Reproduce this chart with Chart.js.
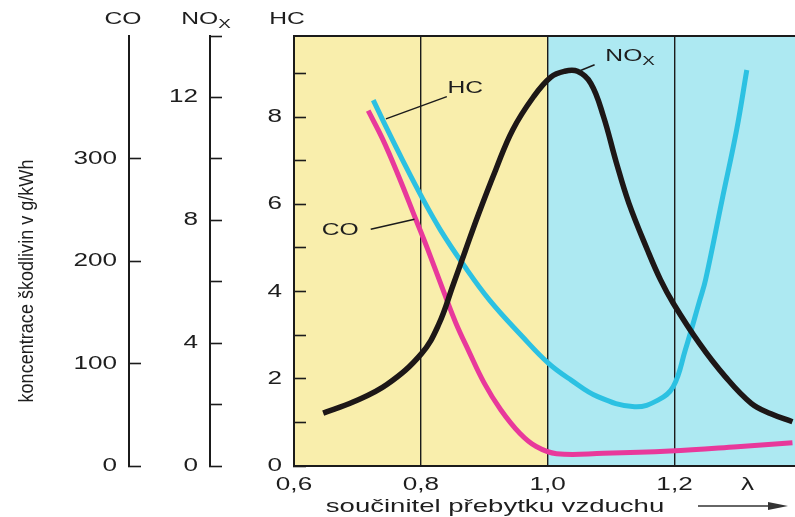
<!DOCTYPE html>
<html>
<head>
<meta charset="utf-8">
<script src="https://cdn.jsdelivr.net/npm/chart.js@4/dist/chart.umd.min.js"></script>
<style>
html, body { margin: 0; padding: 0; background: #fff; }
</style>
</head>
<body>
<canvas id="graf" width="795" height="517"></canvas>
<script>
// hodnoty (λ, koncentrace v jednotkách příslušné osy)
const noxLambda = [0.646, 0.694, 0.747, 0.801, 0.828, 0.851, 0.870, 0.890, 0.918, 0.945, 0.978, 1.005, 1.026, 1.047, 1.068, 1.088, 1.108, 1.128, 1.158, 1.178, 1.198, 1.239, 1.280, 1.321, 1.352, 1.386];
const noxValues = [1.72, 2.09, 2.66, 3.66, 4.60, 5.90, 7.00, 8.15, 9.64, 10.95, 12.03, 12.66, 12.85, 12.85, 12.46, 11.38, 9.90, 8.56, 7.0, 6.06, 5.30, 4.0, 2.91, 2.04, 1.70, 1.44];

const hcLambda = [0.725, 0.745, 0.771, 0.801, 0.831, 0.867, 0.908, 0.960, 1.001, 1.037, 1.079, 1.137, 1.174, 1.198, 1.217, 1.240, 1.249, 1.275, 1.298, 1.314];
const hcValues = [8.39, 7.78, 7.02, 6.18, 5.41, 4.62, 3.81, 2.97, 2.36, 1.97, 1.59, 1.36, 1.51, 1.82, 2.66, 3.81, 4.27, 6.10, 7.71, 9.08];

const coLambda = [0.717, 0.740, 0.765, 0.792, 0.810, 0.835, 0.855, 0.875, 0.900, 0.926, 0.956, 0.982, 1.014, 1.088, 1.193, 1.299, 1.386];
const coValues = [347, 319, 283, 241, 213, 172, 140, 113, 81, 55, 32, 19, 12, 12.4, 14.7, 18.9, 22.8];

// osy
const xTickValues = [0.6, 0.8, 1.0, 1.2, 1.315];
const xTickLabels = ['0,6', '0,8', '1,0', '1,2', 'λ'];
const xGridValues = [0.8, 1.0, 1.2];
const coLabels = [0, 100, 200, 300];
const noxLabels = [0, 4, 8, 12];
const hcLabels = [0, 2, 4, 6, 8];

// oblasti pozadí
const zoneStart = [0.6, 1.0];
const zoneEnd = [1.0, 1.39];

// popisky křivek (λ, hodnota na ose HC)
const nazvy = [
    { text: 'HC', x: 0.870, y: 8.66, x1: 0.841, y1: 8.47, x2: 0.745, y2: 7.96 },
    { text: 'CO', x: 0.673, y: 5.41, x1: 0.721, y1: 5.43, x2: 0.790, y2: 5.66 },
    { text: 'NO', sub: 'X', x: 1.130, y: 9.39, x1: 1.074, y1: 9.20, x2: 1.047, y2: 9.04 }
];

const pismo = "'Liberation Sans', Arial, sans-serif";
const barvaTextu = '#1e1e1e';
const barvaCar = '#1b1b1b';
const zoneColors = ['#f9eeac', '#ade9f2'];

// písmo v předloze je široké - text se kreslí roztažený
const canvas = document.getElementById('graf');
const ctx = canvas.getContext('2d');
const obycejnyText = ctx.fillText;
ctx.textStretch = 1.45;
ctx.fillText = function (text, x, y) {
    this.save();
    this.translate(x, y);
    this.scale(this.textStretch, 1);
    obycejnyText.call(this, text, 0, 0);
    this.restore();
};

function body(xs, ys) {
    return xs.map((x, i) => ({ x: x, y: ys[i] }));
}

function napis(c, text, sub, x, y, size) {
    c.font = size + 'px ' + pismo;
    let w = c.measureText(text).width * c.textStretch;
    let ws = 0;
    if (sub) {
        c.font = Math.round(size * 0.75) + 'px ' + pismo;
        ws = c.measureText(sub).width * c.textStretch;
    }
    let left = x - (w + ws) / 2;
    c.textAlign = 'left';
    c.textBaseline = 'middle';
    c.font = size + 'px ' + pismo;
    c.fillText(text, left, y);
    if (sub) {
        c.font = Math.round(size * 0.75) + 'px ' + pismo;
        c.fillText(sub, left + w, y + 5);
    }
}

const popisky = {
    id: 'popisky',
    beforeDraw(chart) {
        let c = chart.ctx;
        let a = chart.chartArea;
        let sx = chart.scales.x;
        c.save();
        for (let i = 0; i < zoneStart.length; i++) {
            let x1 = sx.getPixelForValue(zoneStart[i]);
            let x2 = sx.getPixelForValue(zoneEnd[i]);
            c.fillStyle = zoneColors[i];
            c.fillRect(x1, a.top, x2 - x1, a.bottom - a.top);
        }
        c.restore();
    },
    afterDraw(chart) {
        let c = chart.ctx;
        let a = chart.chartArea;
        let sx = chart.scales.x;
        let sy = chart.scales.yHC;
        c.save();

        // horní okraj grafu
        c.strokeStyle = barvaCar;
        c.lineWidth = 2;
        c.beginPath();
        c.moveTo(a.left, a.top);
        c.lineTo(a.right, a.top);
        c.stroke();

        c.fillStyle = barvaTextu;
        c.textStretch = 1.45;

        // názvy os nahoře
        napis(c, 'CO', null, chart.scales.yCO.right - 6, 19, 17);
        napis(c, 'NO', 'X', chart.scales.yNOx.right - 4, 19, 17);
        napis(c, 'HC', null, chart.scales.yHC.right - 7, 19, 17);

        // popisky křivek s odkazovou čarou
        c.lineWidth = 1.5;
        nazvy.forEach(n => {
            napis(c, n.text, n.sub, sx.getPixelForValue(n.x), sy.getPixelForValue(n.y), 17);
            c.beginPath();
            c.moveTo(sx.getPixelForValue(n.x1), sy.getPixelForValue(n.y1));
            c.lineTo(sx.getPixelForValue(n.x2), sy.getPixelForValue(n.y2));
            c.stroke();
        });

        // popis osy x
        c.font = '19px ' + pismo;
        c.textAlign = 'center';
        c.textBaseline = 'alphabetic';
        c.fillText('součinitel přebytku vzduchu', 495, 512);

        // šipka
        c.strokeStyle = '#333';
        c.fillStyle = '#333';
        c.lineWidth = 1.6;
        c.beginPath();
        c.moveTo(698, 506);
        c.lineTo(772, 506);
        c.stroke();
        c.beginPath();
        c.moveTo(768, 502);
        c.lineTo(788, 506);
        c.lineTo(768, 510);
        c.closePath();
        c.fill();

        // popis osy y (užší písmo)
        c.fillStyle = barvaTextu;
        c.textStretch = 0.86;
        c.translate(27, 281);
        c.rotate(-Math.PI / 2);
        c.font = '21px ' + pismo;
        c.textAlign = 'center';
        c.textBaseline = 'middle';
        c.fillText('koncentrace škodlivin v g/kWh', 0, 0);
        c.textStretch = 1.45;
        c.restore();
    }
};

const tickFont = { family: pismo, size: 18 };

function osaY(weight, width, max, step, labels, ok) {
    return {
        type: 'linear',
        position: 'left',
        weight: weight,
        min: 0,
        max: max,
        afterFit: s => { s.width = width; },
        ticks: {
            stepSize: step,
            padding: 24,
            color: barvaTextu,
            font: tickFont,
            callback: v => labels.includes(v) ? String(v) : ''
        },
        grid: {
            drawOnChartArea: false,
            tickLength: -12,
            tickWidth: 1.6,
            tickColor: c => c.tick && ok(c.tick.value) ? barvaCar : 'rgba(0,0,0,0)'
        },
        border: { color: barvaCar, width: 2 }
    };
}

new Chart(ctx, {
    type: 'line',
    data: {
        datasets: [{
            label: 'NOx',
            data: body(noxLambda, noxValues),
            yAxisID: 'yNOx',
            borderColor: '#1d1717',
            borderWidth: 5.5
        }, {
            label: 'HC',
            data: body(hcLambda, hcValues),
            yAxisID: 'yHC',
            borderColor: '#2cc1e2',
            borderWidth: 5
        }, {
            label: 'CO',
            data: body(coLambda, coValues),
            yAxisID: 'yCO',
            borderColor: '#e8399b',
            borderWidth: 5
        }]
    },
    options: {
        responsive: false,
        animation: false,
        events: [],
        elements: {
            point: { radius: 0 },
            line: { tension: 0.4, fill: false, borderCapStyle: 'butt' }
        },
        layout: {
            padding: { top: 36, left: 0, right: 0, bottom: 0 }
        },
        plugins: {
            legend: { display: false },
            tooltip: { enabled: false }
        },
        scales: {
            x: {
                type: 'linear',
                position: 'bottom',
                min: 0.6,
                max: 1.39,
                afterBuildTicks: s => { s.ticks = xTickValues.map(v => ({ value: v })); },
                afterFit: s => { s.height = 51; },
                ticks: {
                    autoSkip: false,
                    maxRotation: 0,
                    padding: 8,
                    color: barvaTextu,
                    font: tickFont,
                    callback: (v, i) => xTickLabels[i]
                },
                grid: {
                    drawTicks: false,
                    lineWidth: 1.4,
                    color: c => c.tick && xGridValues.includes(c.tick.value) ? barvaCar : 'rgba(0,0,0,0)'
                },
                border: { color: barvaCar, width: 2 }
            },
            yCO: osaY(3, 129, 420, 100, coLabels, v => v % 100 === 0),
            yNOx: osaY(2, 81, 14, 2, noxLabels, v => Number.isInteger(v)),
            yHC: osaY(1, 84, 9.86, 1, hcLabels, v => Number.isInteger(v))
        }
    },
    plugins: [popisky]
});
</script>
</body>
</html>
